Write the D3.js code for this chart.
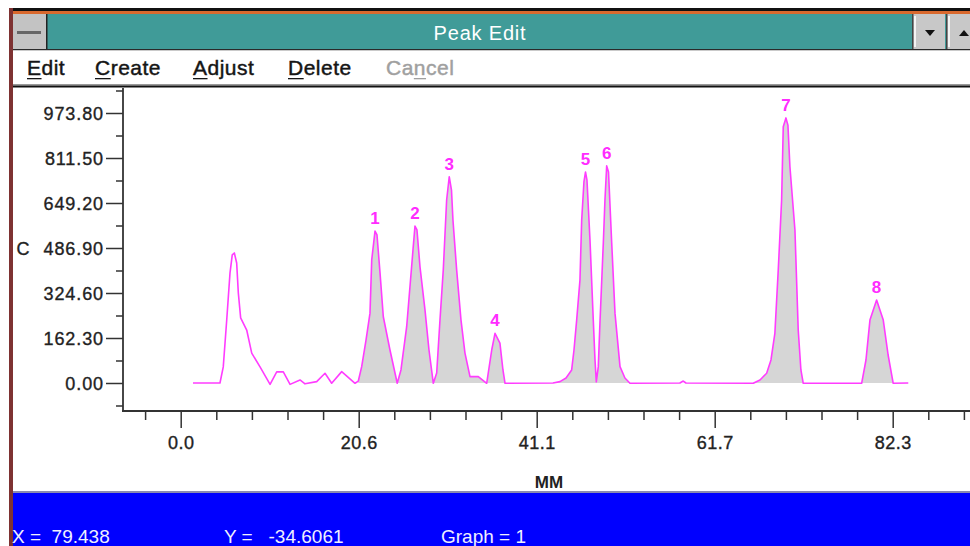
<!DOCTYPE html>
<html>
<head>
<meta charset="utf-8">
<script src="https://cdn.jsdelivr.net/npm/d3@7"></script>
<style>
  html, body { margin: 0; padding: 0; background: #ffffff; }
  svg { display: block; font-family: "Liberation Sans", Arial, sans-serif; }
</style>
</head>
<body>
<svg id="chart" width="970" height="546"></svg>
<script>
// ---------- data ----------
const traceX = [1.42, 4.54, 4.92, 5.32, 5.70, 5.96, 6.20, 6.47, 6.66, 6.93, 7.63, 8.21, 9.17, 10.33, 11.10, 11.86, 12.64, 13.79, 14.37, 15.72, 16.68, 17.45, 18.61, 20.15,
  20.53, 20.92, 21.42, 21.88, 22.08, 22.46, 22.69, 23.04, 23.42, 24.19, 25.03,
  25.46, 26.12, 26.50, 26.85, 27.08, 27.31, 27.66, 28.24, 28.70, 29.20,
  29.59, 29.97, 30.35, 30.74, 31.04, 31.30, 31.47, 31.90, 32.40, 32.86, 33.44, 34.40, 35.37,
  35.95, 36.33, 36.90, 37.25, 37.49,
  43.03, 43.84, 44.54, 45.19, 45.46, 45.77, 46.15, 46.35, 46.61, 46.79, 46.96, 47.31, 47.69, 47.89, 48.04,
  48.27, 48.46, 48.85, 49.04, 49.24, 49.45, 49.82, 50.20, 50.78, 51.35, 51.93,
  57.70, 58.09, 58.40,
  66.18, 66.96, 67.73, 68.23, 68.68, 69.07, 69.46, 69.65, 69.96, 70.19, 70.42, 71.00, 71.38, 71.69, 71.96,
  78.71, 79.21, 79.67, 80.44, 81.21, 81.77, 82.36, 84.10];
const traceY = [0, 0, 58, 227, 397, 462, 469, 433, 325, 235, 191, 108, 58, -5, 40, 40, -5, 11, -3, 5, 35, -1, 41, -1,
  7, 59, 155, 252, 444, 548, 534, 397, 239, 119, -1,
  47, 203, 347, 480, 566, 552, 419, 263, 119, -1,
  36, 227, 407, 660, 744, 696, 588, 407, 227, 108, 23, 23, -1,
  119, 179, 144, 47, -1,
  0, 5, 18, 47, 119, 227, 371, 588, 725, 761, 732, 516, 227, 83, 4,
  59, 216, 505, 660, 783, 761, 505, 252, 59, 18, -1,
  0, 7, 0,
  -1, 11, 35, 83, 179, 407, 660, 924, 956, 930, 780, 552, 191, 47, -1,
  -1, 83, 227, 299, 227, 101, -1, 0];

// integrated peak windows (start, end) in MM
const peakStart = [20.53, 25.03, 29.20, 35.37, 43.03, 48.04, 66.18, 78.71];
const peakEnd   = [25.03, 29.20, 35.37, 37.49, 48.04, 51.93, 71.96, 82.36];
const peakNames = ["1", "2", "3", "4", "5", "6", "7", "8"];
const peakApexX = [22.46, 27.08, 31.04, 36.33, 46.79, 49.24, 69.96, 80.44];
const peakApexY = [548, 566, 744, 179, 761, 783, 956, 299];

const yTickValues = [0, 162.3, 324.6, 486.9, 649.2, 811.5, 973.8];
const yTickLabels = ["0.00", "162.30", "324.60", "486.90", "649.20", "811.50", "973.80"];
const yMinorTicks = [-81.15, 81.15, 243.45, 405.75, 568.05, 730.35, 892.65, 1054.95];
const xTickValues = [0, 20.575, 41.15, 61.725, 82.3];
const xTickLabels = ["0.0", "20.6", "41.1", "61.7", "82.3"];
const xMinorTicks = [-4.115, 4.115, 8.23, 12.345, 16.46, 24.69, 28.805, 32.92, 37.035,
  45.265, 49.38, 53.495, 57.61, 65.84, 69.955, 74.07, 78.185, 86.415, 90.53];

const menuItems = ["Edit", "Create", "Adjust", "Delete", "Cancel"];
const statusTexts = ["X =  79.438", "Y =   -34.6061", "Graph = 1"];

// ---------- drawing ----------
const svg = d3.select("#chart");
const FONT = "'Liberation Sans', Arial, sans-serif";

// window chrome
svg.append("rect").attr("x", 0).attr("y", 0).attr("width", 970).attr("height", 546).attr("fill", "#ffffff");
svg.append("rect").attr("x", 9).attr("y", 8).attr("width", 961).attr("height", 3).attr("fill", "#111111");
svg.append("rect").attr("x", 9).attr("y", 11).attr("width", 961).attr("height", 3).attr("fill", "#d9692e");
svg.append("rect").attr("x", 13).attr("y", 14).attr("width", 957).attr("height", 36).attr("fill", "#409b98");
svg.append("rect").attr("x", 13).attr("y", 49).attr("width", 957).attr("height", 1.5).attr("fill", "#2a2a2a");
// system box
svg.append("rect").attr("x", 13).attr("y", 14).attr("width", 34).attr("height", 35).attr("fill", "#c3c3c3");
svg.append("rect").attr("x", 46).attr("y", 14).attr("width", 1.5).attr("height", 35).attr("fill", "#222");
svg.append("rect").attr("x", 17).attr("y", 31).attr("width", 24).attr("height", 3).attr("fill", "#666");
// min/max buttons
[[912, "down"], [946, "up"]].forEach(([bx, dir]) => {
  svg.append("rect").attr("x", bx).attr("y", 14).attr("width", 33).attr("height", 35).attr("fill", "#c8c8c8");
  svg.append("rect").attr("x", bx).attr("y", 14).attr("width", 1.5).attr("height", 35).attr("fill", "#444");
  svg.append("rect").attr("x", bx + 2).attr("y", 16).attr("width", 2).attr("height", 31).attr("fill", "#f4f4f4");
  const cx = bx + 18, cy = 33;
  const pts = dir === "down" ? [[cx - 5, cy - 3], [cx + 5, cy - 3], [cx, cy + 3]] : [[cx - 5, cy + 3], [cx + 5, cy + 3], [cx, cy - 3]];
  svg.append("polygon").attr("points", pts.map(p => p.join(",")).join(" ")).attr("fill", "#111");
});
svg.append("text").attr("x", 480).attr("y", 40).attr("text-anchor", "middle")
  .attr("font-size", 20).attr("letter-spacing", 0.8).attr("fill", "#ffffff").attr("font-family", FONT).text("Peak Edit");

// menu bar
svg.append("rect").attr("x", 13).attr("y", 50.5).attr("width", 957).attr("height", 34).attr("fill", "#ffffff");
svg.append("rect").attr("x", 13).attr("y", 84).attr("width", 957).attr("height", 1.5).attr("fill", "#999");
svg.append("rect").attr("x", 13).attr("y", 85.5).attr("width", 957).attr("height", 2).attr("fill", "#111");
const menuX = [27, 95, 193, 288, 386];
const underlineIdx = [0, 0, 0, 0, 2];
menuItems.forEach((m, i) => {
  const col = i === 4 ? "#a0a0a0" : "#151515";
  const t = svg.append("text").attr("x", menuX[i]).attr("y", 75).attr("font-size", 21)
    .attr("font-family", FONT).attr("letter-spacing", 0.5)
    .attr("fill", col).attr("stroke", col).attr("stroke-width", 0.45).text(m);
  // underline the mnemonic letter
  const node = t.node();
  const s = node.getStartPositionOfChar(underlineIdx[i]);
  const e = node.getEndPositionOfChar(underlineIdx[i]);
  svg.append("rect").attr("x", s.x).attr("y", 78).attr("width", e.x - s.x).attr("height", 1.3).attr("fill", col);
});

// left frame border
svg.append("rect").attr("x", 9).attr("y", 8).attr("width", 4).attr("height", 538).attr("fill", "#7e3232");

// status bar
svg.append("rect").attr("x", 13).attr("y", 491).attr("width", 957).attr("height", 2).attr("fill", "#8a8ab0");
svg.append("rect").attr("x", 13).attr("y", 493).attr("width", 957).attr("height", 53).attr("fill", "#0000ff");
const statusX = [12, 224, 441];
statusTexts.forEach((s, i) => {
  svg.append("text").attr("x", statusX[i]).attr("y", 543).attr("font-size", 19).attr("font-family", FONT)
    .attr("fill", "#f0f0ff").attr("xml:space", "preserve").style("white-space", "pre").text(s);
});

// ---------- plot ----------
const x = d3.scaleLinear().domain([0, 82.3]).range([180.7, 892.7]);
const y = d3.scaleLinear().domain([-101, 1054.95]).range([411, 90.5]);

const pts = traceX.map((v, i) => ({ x: v, y: traceY[i] }));

// integrated area fills
const area = d3.area().x(d => x(d.x)).y0(y(0)).y1(d => y(Math.max(0, d.y)));
peakStart.forEach((a, i) => {
  const seg = pts.filter(d => d.x >= a - 1e-9 && d.x <= peakEnd[i] + 1e-9);
  svg.append("path").datum(seg).attr("d", area).attr("fill", "#d6d6d6");
});

// trace
const line = d3.line().x(d => x(d.x)).y(d => y(d.y));
svg.append("path").datum(pts).attr("d", line).attr("fill", "none")
  .attr("stroke", "#ff3cff").attr("stroke-width", 1.6).attr("stroke-linejoin", "round");

// peak labels
peakNames.forEach((n, i) => {
  svg.append("text").attr("x", x(peakApexX[i])).attr("y", y(peakApexY[i]) - 7)
    .attr("text-anchor", "middle").attr("font-size", 17).attr("font-weight", "bold")
    .attr("font-family", FONT).attr("fill", "#ff2cff").text(n);
});

// y axis
const yAxisMajor = d3.axisLeft(y).tickValues(yTickValues).tickSize(17).tickPadding(2)
  .tickFormat((d, i) => yTickLabels[i]);
const gy = svg.append("g").attr("transform", "translate(123,0)").call(yAxisMajor);
gy.select(".domain").remove();
gy.selectAll("line").attr("stroke", "#333").attr("stroke-width", 1.5);
gy.selectAll("text").attr("font-size", 18).attr("font-family", FONT).attr("fill", "#222")
  .attr("stroke", "#222").attr("stroke-width", 0.35)
  .attr("letter-spacing", 0.9).attr("dy", "0.35em");
const gyMinor = svg.append("g").attr("transform", "translate(123,0)")
  .call(d3.axisLeft(y).tickValues(yMinorTicks).tickSize(7).tickFormat(""));
gyMinor.select(".domain").remove();
gyMinor.selectAll("line").attr("stroke", "#333").attr("stroke-width", 1.5);
svg.append("line").attr("x1", 123).attr("x2", 123).attr("y1", 88).attr("y2", 411.5)
  .attr("stroke", "#333").attr("stroke-width", 1.8);

// x axis
const xAxisMajor = d3.axisBottom(x).tickValues(xTickValues).tickSize(17).tickPadding(8)
  .tickFormat((d, i) => xTickLabels[i]);
const gx = svg.append("g").attr("transform", "translate(0,411)").call(xAxisMajor);
gx.select(".domain").remove();
gx.selectAll("line").attr("stroke", "#333").attr("stroke-width", 1.5);
gx.selectAll("text").attr("font-size", 18).attr("font-family", FONT).attr("fill", "#222")
  .attr("stroke", "#222").attr("stroke-width", 0.35).attr("letter-spacing", 0.5);
const gxMinor = svg.append("g").attr("transform", "translate(0,411)")
  .call(d3.axisBottom(x).tickValues(xMinorTicks).tickSize(9).tickFormat(""));
gxMinor.select(".domain").remove();
gxMinor.selectAll("line").attr("stroke", "#333").attr("stroke-width", 1.5);
svg.append("line").attr("x1", 122).attr("x2", 970).attr("y1", 411).attr("y2", 411)
  .attr("stroke", "#333").attr("stroke-width", 1.8);

// axis titles
svg.append("text").attr("x", 23).attr("y", 249).attr("dy", "0.35em").attr("text-anchor", "middle")
  .attr("font-size", 18).attr("font-family", FONT).attr("fill", "#222").attr("stroke", "#222").attr("stroke-width", 0.35).text("C");
svg.append("text").attr("x", 549).attr("y", 488).attr("text-anchor", "middle")
  .attr("font-size", 17).attr("font-weight", "bold").attr("font-family", FONT).attr("fill", "#222").text("MM");
</script>
</body>
</html>
